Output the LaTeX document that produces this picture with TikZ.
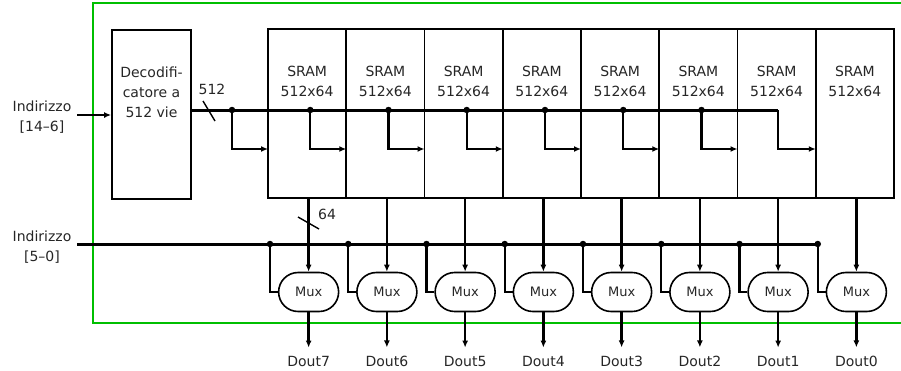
\documentclass[tikz,border=0pt]{standalone}
\usepackage{fontspec}
\setmainfont{DejaVu Sans}
\usetikzlibrary{arrows.meta,shapes.misc}
\begin{document}
\begin{tikzpicture}[x=1pt,y=-1pt,
  txt/.style={font=\fontsize{14}{20}\selectfont, inner sep=0pt, align=center, text=black!85},
  blk/.style={draw, line width=1.8pt, inner sep=0pt},
  sram/.style={blk, minimum width=78.25pt, minimum height=169pt},
  mux/.style={draw, line width=1.6pt, rounded rectangle, minimum width=60pt, minimum height=39pt, inner sep=0pt, font=\fontsize{13}{15}\selectfont, text=black!85},
  bus/.style={line width=3pt},
  wire/.style={line width=2.4pt},
  arr/.style={-{Latex[length=7pt,width=6pt]}},
  dot/.style={circle, fill=black, inner sep=0pt, minimum size=6.5pt},
  frame/.style={draw=green!75!black, line width=2pt}]
\useasboundingbox (0,0) rectangle (901,370);

% green frame
\draw[frame] (903,3) -- (93,3) -- (93,323) -- (903,323);

% decoder
\node[blk, minimum width=79pt, minimum height=169pt] (dec) at (151.5,114.5) {};
\node[txt] (dectxt) at (151.5,92) {Decodifi-\\catore a\\512 vie};

% input labels
\node[txt] (in1) at (42,117) {Indirizzo\\{[14--6]}};
\node[txt] (in2) at (42,247) {Indirizzo\\{[5--0]}};
\coordinate (in1e) at (77,115);
\coordinate (in2e) at (77,244);
\draw[wire,arr] (in1e) -- (dec.west |- in1e);

% SRAMs, muxes, outputs
\foreach \k/\d in {0/7,1/6,2/5,3/4,4/3,5/2,6/1,7/0}{
  \pgfmathsetmacro{\L}{268+78.25*\k}
  \pgfmathsetmacro{\C}{\L+39.125}
  \pgfmathsetmacro{\M}{\C+1.5}
  \node[sram] (s\k) at (\C,113.5) {};
  \node[txt] (st\k) at (\C,81.5) {SRAM\\512x64};
  \node[mux] (m\k) at (\M,292) {Mux};
  \node[txt, anchor=base] (d\k) at (\M,366) {Dout\d};
  \draw[wire,arr] (m\k.north |- s\k.south) -- (m\k.north);
  \draw[wire,arr] (m\k.south) -- ([yshift=8pt]d\k.north);
  % address bit lines
  \coordinate (a\k) at (\L+2,244);
  \node[dot] (ad\k) at (a\k) {};
  \draw[wire] (a\k) |- (m\k.west);
  % decoder outputs
  \coordinate (e\k) at (\L,149);
}

% address bus [5-0]
\draw[bus] (in2e) -- (a7);

% decoder bus
\foreach \k in {0,...,6}{
  \pgfmathsetmacro{\L}{268+78.25*\k}
  \coordinate (b\k) at (\L-36,110);
  \node[dot] (bd\k) at (b\k) {};
  \draw[wire,arr] (b\k) |- (e\k);
}
\coordinate (b7) at (777.75,110);
\draw[bus] (dec.east |- b0) -- (b7);
\draw[wire,arr,line join=miter] (b7) |- (e7);

% bus width marks
\coordinate (sl1a) at (203,101);
\coordinate (sl1b) at (215,121);
\draw[line width=1.4pt] (sl1a) -- (sl1b);
\node[txt] (w512) at (212,89) {512};
\coordinate (sl2a) at (298,217);
\coordinate (sl2b) at (319,229);
\draw[line width=1.4pt] (sl2a) -- (sl2b);
\node[txt] (w64) at (327,214) {64};
\end{tikzpicture}
\end{document}
